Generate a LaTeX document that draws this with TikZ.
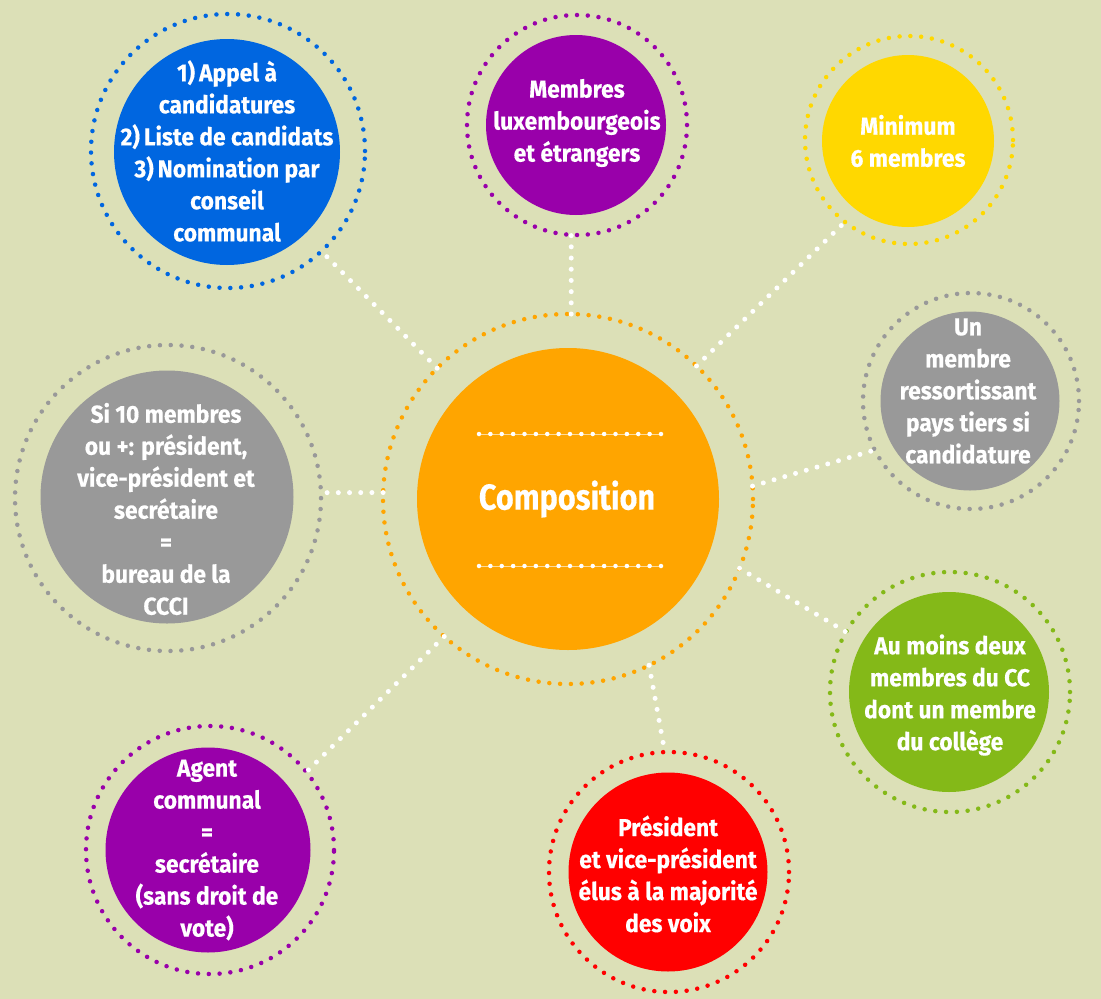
\documentclass[tikz,border=0pt]{standalone}
\usepackage{fontspec}
\newfontfamily\lblfont{Fira Sans}[FakeStretch=0.93, FakeBold=0.4]
\newfontfamily\titfont{Fira Sans}[FakeStretch=0.85, FakeBold=0.4]
\definecolor{bg}{RGB}{220,224,183}
\definecolor{cblue}{RGB}{0,102,224}
\definecolor{cpurple}{RGB}{153,0,170}
\definecolor{cyellow}{RGB}{255,216,0}
\definecolor{cgray}{RGB}{153,153,153}
\definecolor{corange}{RGB}{255,165,0}
\definecolor{cgreen}{RGB}{132,185,24}
\definecolor{cred}{RGB}{255,0,0}
\begin{document}
\begin{tikzpicture}[x=1pt,y=-1pt,
  disc/.style={circle, fill=#1, draw=none, inner sep=0pt},
  ring/.style={circle, draw=#1, line width=4.5pt, dash pattern=on 0pt off 10.8pt, line cap=round, inner sep=0pt, outer sep=0pt},
  link/.style={draw=white, line width=5pt, dash pattern=on 0pt off 11.2pt, line cap=round},
  rule/.style={draw=white, line width=4.5pt, dash pattern=on 0pt off 11.375pt, line cap=round},
  thin/.style={draw=white, line width=0.8pt, opacity=0.6},
  txt/.style={text=white, align=center, inner sep=0pt, font=\lblfont\bfseries\fontsize{24.5}{32}\selectfont}
]
\fill[bg] (0,0) rectangle (1101,999);
\useasboundingbox (0,0) rectangle (1101,999);

% centre
\node[disc=corange, minimum size=302pt] (cenD) at (568,499) {};
\node[ring=corange, minimum size=370pt] (cen) at (568,499) {};
\node[txt, font=\titfont\bfseries\fontsize{36}{40}\selectfont] (cenT) at (567,499) {Composition};
\coordinate (r1a) at (479,434); \coordinate (r1b) at (661,434);
\coordinate (r2a) at (479,566); \coordinate (r2b) at (661,566);
\draw[thin] (r1a) -- (r1b);
\draw[thin] (r2a) -- (r2b);
\draw[rule] (r1a) -- (r1b);
\draw[rule] (r2a) -- (r2b);

% blue
\node[disc=cblue, minimum size=226pt] (blueD) at (227,152) {};
\node[ring=cblue, minimum size=274pt] (blue) at (228,151) {};
\node[txt] (blueT) at (227,151) {1)\,Appel à\\candidatures\\2)\,Liste de candidats\\3)\,Nomination par\\conseil\\communal};

% purple top
\node[disc=cpurple, minimum size=180pt] (ptopD) at (576,125) {};
\node[ring=cpurple, minimum size=220pt] (ptop) at (577,125) {};
\node[txt] (ptopT) at (577,123) {Membres\\luxembourgeois\\et étrangers};

% yellow
\node[disc=cyellow, minimum size=172pt] (yelD) at (908,141) {};
\node[ring=cyellow, minimum size=208pt] (yel) at (909,140) {};
\node[txt] (yelT) at (908,141) {Minimum\\6 membres};

% gray right
\node[disc=cgray, minimum size=179pt] (grRD) at (970,401) {};
\node[ring=cgray, minimum size=216pt] (grR) at (971,401) {};
\node[txt] (grRT) at (968,391) {Un\\membre\\ressortissant\\pays tiers si\\candidature};

% gray left
\node[disc=cgray, minimum size=253pt] (grLD) at (167,497) {};
\node[ring=cgray, minimum size=306pt] (grL) at (168,498) {};
\node[txt] (grLT) at (166,509) {Si 10 membres\\ou +: président,\\vice-président et\\secrétaire\\=\\bureau de la\\CCCI};

% green
\node[disc=cgreen, minimum size=200pt] (grnD) at (949,692) {};
\node[ring=cgreen, minimum size=240pt] (grn) at (950,692) {};
\node[txt] (grnT) at (950,695) {Au moins deux\\membres du CC\\dont un membre\\du collège};

% red
\node[disc=cred, minimum size=199pt] (redD) at (668,872) {};
\node[ring=cred, minimum size=240pt] (red) at (669,872) {};
\node[txt] (redT) at (668,874) {Président\\et vice-président\\élus à la majorité\\des voix};

% purple bottom
\node[disc=cpurple, minimum size=205pt] (pbotD) at (208,850) {};
\node[ring=cpurple, minimum size=248pt] (pbot) at (210,850) {};
\node[txt] (pbotT) at (207,850) {Agent\\communal\\=\\secrétaire\\(sans droit de\\vote)};

% connectors
\draw[link] (cen.135) -- (blue.-47);
\draw[link] (cen.89) -- (ptop.-93);
\draw[link] (cen.46) -- (yel.232);
\draw[link] (cen.4) -- (grR.207);
\draw[link] (cen.-22) -- (grn.150);
\draw[link] (cen.-64) -- (red.92);
\draw[link] (cen.228) -- (pbot.39);
\draw[link] (cen.178) -- (grL.2);
\end{tikzpicture}
\end{document}
